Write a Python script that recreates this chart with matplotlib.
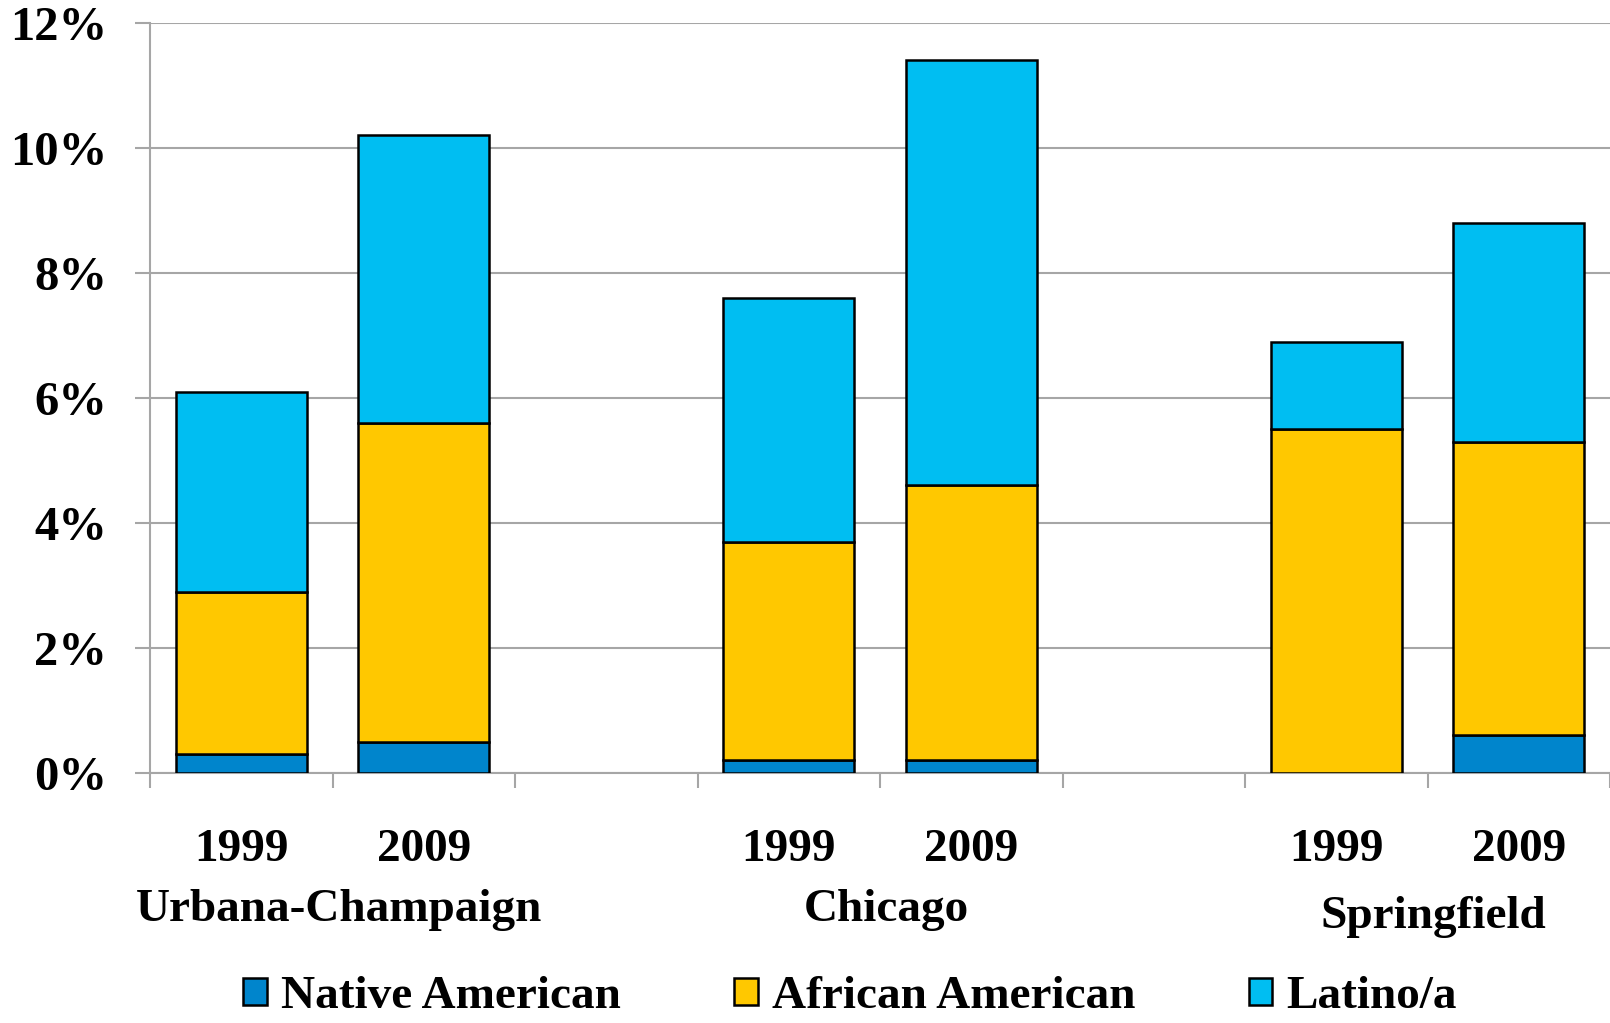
import matplotlib.pyplot as plt
from matplotlib.transforms import blended_transform_factory

# data (percent of students)
cities = ["Urbana-Champaign", "Chicago", "Springfield"]
years = ["1999", "2009"]
native = [0.3, 0.5, 0.2, 0.2, 0.0, 0.6]
african = [2.6, 5.1, 3.5, 4.4, 5.5, 4.7]
latino = [3.2, 4.6, 3.9, 6.8, 1.4, 3.5]
yticks = [0, 2, 4, 6, 8, 10, 12]

colors = ["#0085CC", "#FFC800", "#00BEF2"]
names = ["Native American", "African American", "Latino/a"]

plt.rcParams['font.family'] = ['Liberation Serif', 'DejaVu Serif']
plt.rcParams['font.weight'] = 'bold'

# two bars per city, one empty slot between cities
pos = []
for i in range(len(cities)):
    pos += [i * 3, i * 3 + 1]

fig = plt.figure(figsize=(16.1, 10.23), dpi=100)
ax = fig.add_axes([0.0932, 0.2444, 0.9068, 0.7334])

bottom = [0.0] * len(pos)
bars = []
for vals, c, n in zip([native, african, latino], colors, names):
    b = ax.bar(pos, vals, width=0.72, bottom=bottom, color=c,
               edgecolor="black", linewidth=1.8, label=n, zorder=3)
    bars.append(b)
    bottom = [a + v for a, v in zip(bottom, vals)]

ax.set_xlim(-0.5, 7.5)
ax.set_ylim(0, 12)
ax.set_yticks(yticks)
ax.set_yticklabels([f"{t}%" for t in yticks], fontsize=35, fontweight='bold')
ax.yaxis.grid(True, color="#A6A6A6", linewidth=1.5, zorder=0)
ax.tick_params(axis='y', length=11, width=1.5, color="#A6A6A6", pad=20)

# slot boundary tick marks only, year labels as text
ax.set_xticks([x - 0.5 for x in range(9)])
ax.set_xticklabels([])
ax.tick_params(axis='x', length=11, width=1.5, color="#A6A6A6")

for s in ['top', 'right']:
    ax.spines[s].set_visible(False)
for s in ['left', 'bottom']:
    ax.spines[s].set_color("#A6A6A6")
    ax.spines[s].set_linewidth(1.5)

tr = blended_transform_factory(ax.transData, ax.transAxes)
for i, p in enumerate(pos):
    ax.text(p, -0.1025, years[i % 2], transform=tr, ha='center', va='center',
            fontsize=34, fontweight='bold')
cat_y = [-0.182, -0.182, -0.192]
for i, c in enumerate(cities):
    ax.text(i * 3 + 0.534, cat_y[i], c, transform=tr, ha='center', va='center',
            fontsize=34, fontweight='bold')

fig.legend(handles=bars, labels=names, loc='center', bbox_to_anchor=(0.528, 0.025),
           ncol=3, frameon=False, fontsize=34, handlelength=0.5,
           handleheight=0.5, handletextpad=0.3, columnspacing=2.4)

fig.savefig("out.png", dpi=100)
